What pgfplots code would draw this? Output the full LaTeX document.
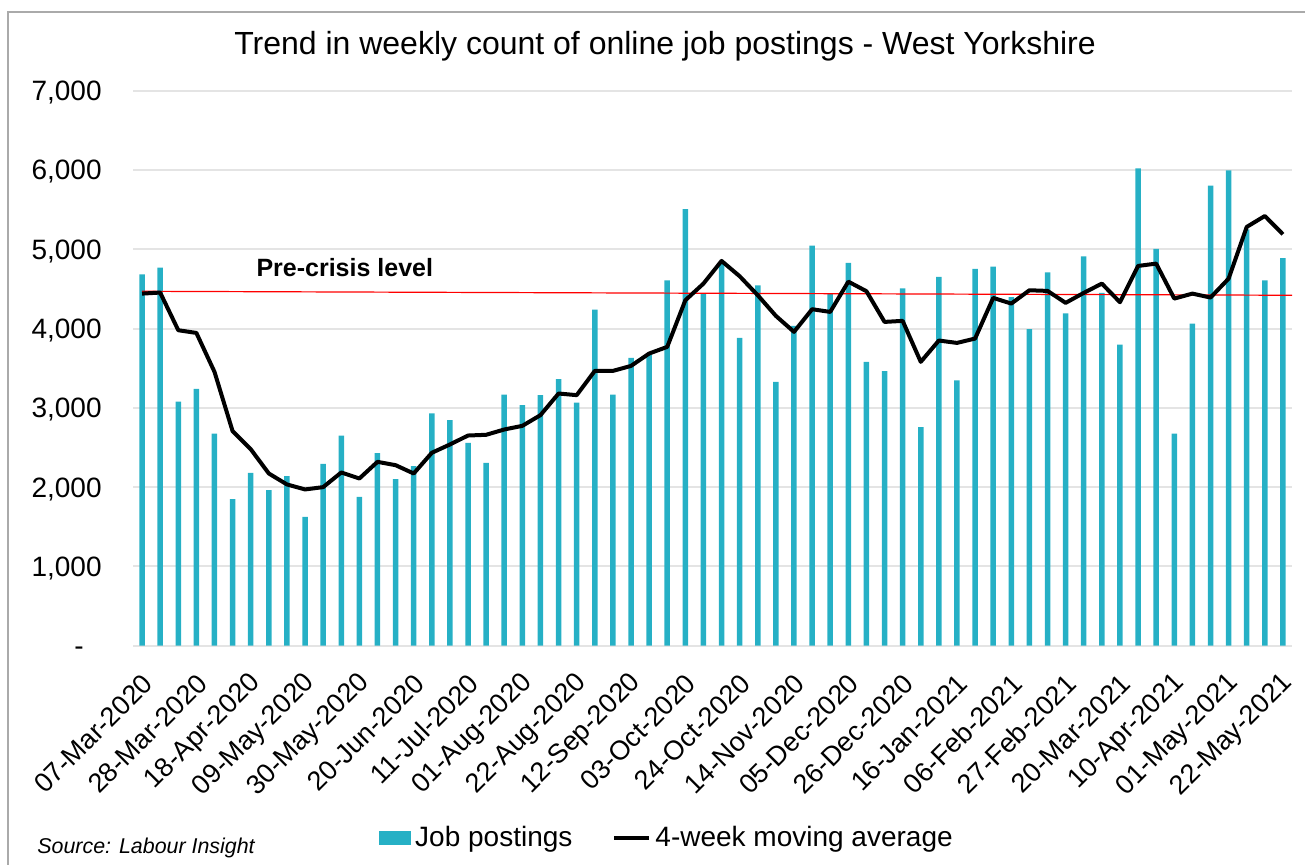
\documentclass[border=0pt]{standalone}
\usepackage{pgfplots}
\pgfplotsset{compat=1.18}
\usepackage{fontspec}
\setmainfont{Liberation Sans}
\definecolor{barc}{RGB}{38,176,197}
\definecolor{gridc}{RGB}{228,228,228}
\definecolor{framec}{RGB}{170,170,170}

\begin{document}
\begin{tikzpicture}[x=1pt,y=1pt]
\useasboundingbox (0,0) rectangle (652.5,432);
\draw[framec, line width=0.6pt] (4,-2) -- (4,426) -- (656,426);
\begin{axis}[
  at={(66.5pt,109.15pt)}, anchor=south west,
  width=579.5pt, height=277.5pt, scale only axis,
  xmin=-0.5, xmax=63.5, ymin=0, ymax=7000,
  axis line style={draw=none},
  major tick length=0pt,
  ymajorgrids, grid style={gridc, line width=1pt},
  ytick={0,1000,2000,3000,4000,5000,6000,7000},
  yticklabels={-\hspace*{9pt},{1,000},{2,000},{3,000},{4,000},{5,000},{6,000},{7,000}},
  yticklabel style={font=\fontsize{14}{16}\selectfont, anchor=base east, inner sep=0pt, xshift=-15.5pt, yshift=-5pt},
  xtick={0,3,...,63},
  xticklabels={07-Mar-2020,28-Mar-2020,18-Apr-2020,09-May-2020,30-May-2020,20-Jun-2020,11-Jul-2020,01-Aug-2020,22-Aug-2020,12-Sep-2020,03-Oct-2020,24-Oct-2020,14-Nov-2020,05-Dec-2020,26-Dec-2020,16-Jan-2021,06-Feb-2021,27-Feb-2021,20-Mar-2021,10-Apr-2021,01-May-2021,22-May-2021},
  xticklabel style={font=\fontsize{13.5}{16}\selectfont, xshift=3pt, yshift=-16.5pt, rotate=45, anchor=east, inner sep=0pt},
  legend style={at={(axis description cs:0.4616,-0.346)}, anchor=center, draw=none, fill=none,
    legend columns=2, font=\fontsize{14}{16}\selectfont,
    /tikz/every even column/.append style={column sep=18pt}},
  clip=false,
]
\addplot[ybar, bar width=2.75pt, bar shift=0pt, fill=barc, draw=none,
  legend image code/.code={\fill[barc] (0pt,-3.5pt) rectangle (16pt,3.5pt);}]
coordinates {
(0,4685) (1,4769) (2,3080) (3,3239) (4,2676) (5,1849) (6,2181) (7,1962)
(8,2139) (9,1626) (10,2294) (11,2651) (12,1878) (13,2429) (14,2101) (15,2265)
(16,2929) (17,2845) (18,2559) (19,2307) (20,3168) (21,3034) (22,3160) (23,3361)
(24,3067) (25,4239) (26,3168) (27,3630) (28,3664) (29,4609) (30,5508) (31,4441)
(32,4820) (33,3882) (34,4546) (35,3328) (36,4034) (37,5046) (38,4441) (39,4828)
(40,3580) (41,3462) (42,4508) (43,2756) (44,4651) (45,3345) (46,4754) (47,4782)
(48,4395) (49,3992) (50,4710) (51,4193) (52,4912) (53,4450) (54,3798) (55,6021)
(56,5004) (57,2676) (58,4063) (59,5803) (60,5996) (61,5252) (62,4609) (63,4887)
};
\addlegendentry{Job postings}
\addplot[red, line width=0.6pt, forget plot] coordinates {(0,4470) (63.5,4420)};
\addplot[black, line width=2pt, line join=round, no marks,
  legend image code/.code={\draw[black, line width=2pt] (0pt,0pt) -- (17.5pt,0pt);}]
coordinates {
(0,4441) (1,4454) (2,3979) (3,3945) (4,3454) (5,2706) (6,2479) (7,2172)
(8,2034) (9,1971) (10,2000) (11,2185) (12,2109) (13,2319) (14,2277) (15,2172)
(16,2433) (17,2538) (18,2651) (19,2660) (20,2727) (21,2773) (22,2908) (23,3181)
(24,3160) (25,3466) (26,3466) (27,3529) (28,3685) (29,3769) (30,4357) (31,4567)
(32,4853) (33,4660) (34,4420) (35,4160) (36,3958) (37,4244) (38,4210) (39,4592)
(40,4471) (41,4084) (42,4097) (43,3580) (44,3849) (45,3819) (46,3874) (47,4387)
(48,4315) (49,4483) (50,4475) (51,4324) (52,4450) (53,4567) (54,4332) (55,4790)
(56,4819) (57,4378) (58,4441) (59,4391) (60,4630) (61,5282) (62,5420) (63,5189)
};
\addlegendentry{4-week moving average}
\node[anchor=base west, inner sep=0pt, font=\bfseries\fontsize{12.5}{15}\selectfont] at (axis cs:6.3,4656) {Pre-crisis level};
\end{axis}
\node[anchor=base, inner sep=0pt, font=\fontsize{16}{19}\selectfont] at (332.5,404.5) {Trend in weekly count of online job postings - West Yorkshire};
\node[anchor=base west, inner sep=0pt, font=\itshape\fontsize{10.7}{13}\selectfont] at (18.5,5.5) {Source: Labour Insight};
\end{tikzpicture}
\end{document}
